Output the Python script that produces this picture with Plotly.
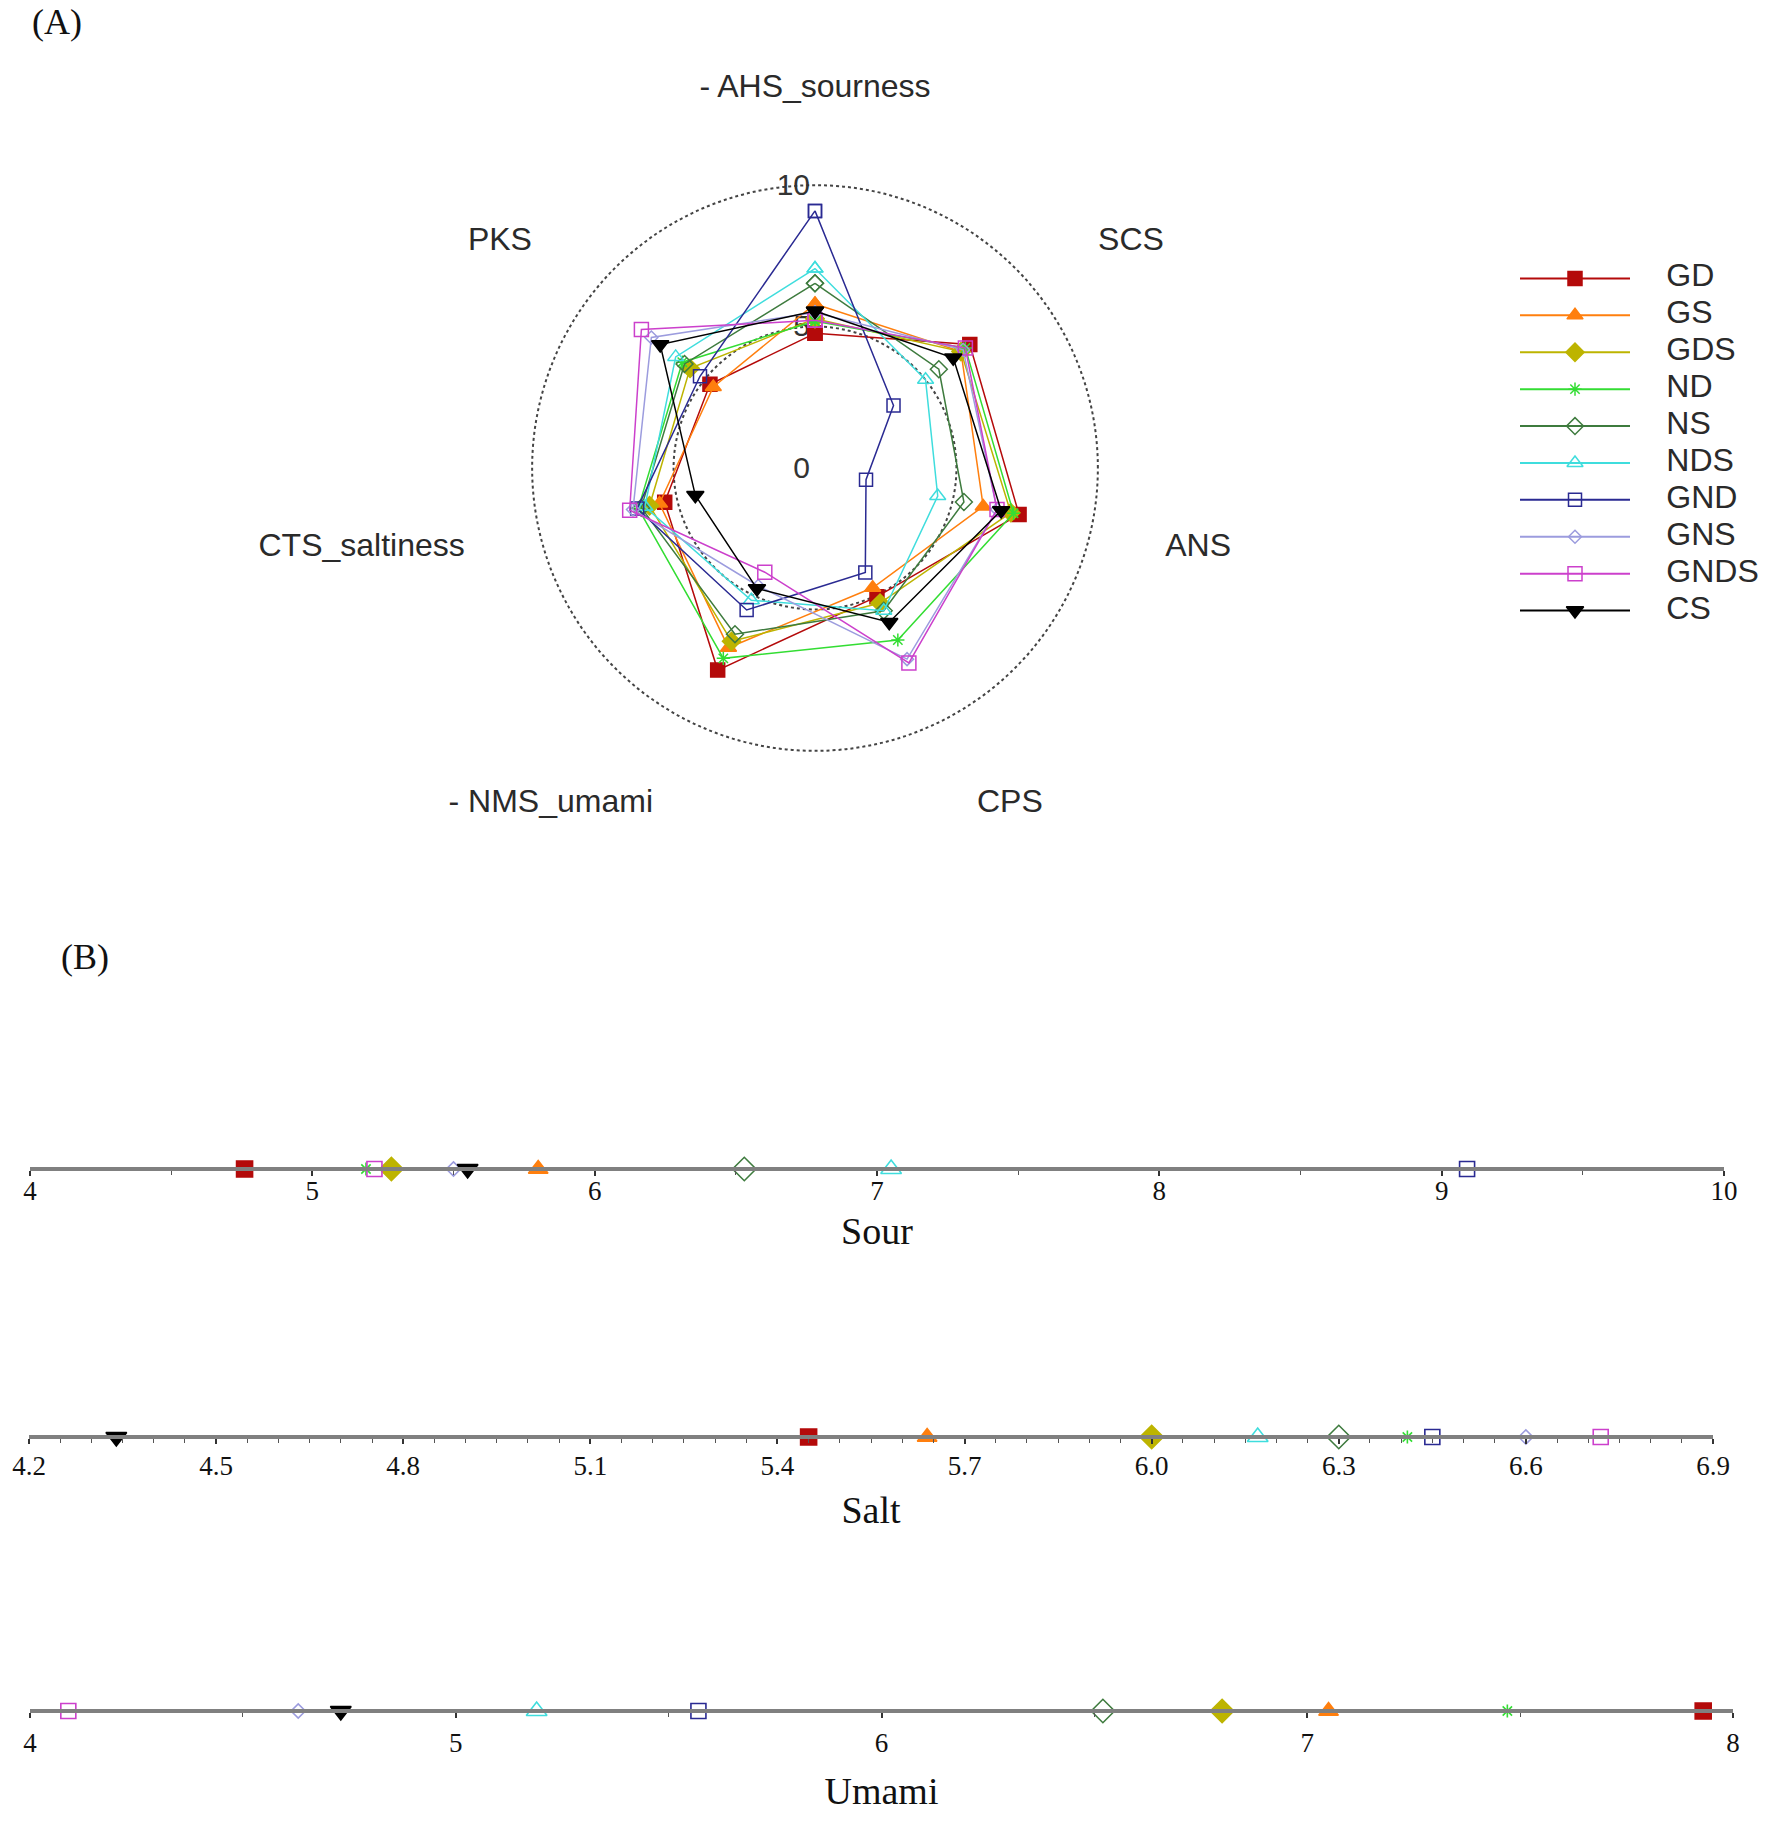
import plotly.graph_objects as go

W, H = 1771, 1845

# ---------------- data ----------------
series = ["GD", "GS", "GDS", "ND", "NS", "NDS", "GND", "GNS", "GNDS", "CS"]
axis_labels = ["- AHS_sourness", "SCS", "ANS", "CPS", "- NMS_umami", "CTS_saltiness", "PKS"]

sour  = [4.76, 5.80, 5.28, 5.19, 6.53, 7.05, 9.09, 5.50, 5.22, 5.55]
scs   = [7.00, 6.60, 6.60, 6.80, 5.60, 5.00, 3.55, 6.70, 6.80, 6.25]
ans   = [7.40, 6.10, 7.10, 7.20, 5.40, 4.45, 1.85, 6.60, 6.60, 6.75]
cps   = [5.05, 4.70, 5.30, 6.75, 5.60, 5.60, 4.10, 7.50, 7.65, 6.05]
umami = [7.93, 7.05, 6.80, 7.47, 6.52, 5.19, 5.57, 4.63, 4.09, 4.73]
salt  = [5.45, 5.64, 6.00, 6.41, 6.30, 6.17, 6.45, 6.60, 6.72, 4.34]
pks   = [4.75, 4.60, 5.65, 6.00, 5.90, 6.30, 5.20, 7.40, 7.85, 7.00]

radial_ticks = [0, 5, 10]
sour_ticks = [4, 5, 6, 7, 8, 9, 10]
salt_ticks = [4.2, 4.5, 4.8, 5.1, 5.4, 5.7, 6.0, 6.3, 6.6, 6.9]
umami_ticks = [4, 5, 6, 7, 8]

# ---------------- styles ----------------
colors = ["#B40A0A", "#FF7F0E", "#BDB400", "#33DD33", "#3E7B3E",
          "#3FDDDD", "#2A2A92", "#9C9CDE", "#CC40CC", "#000000"]
symbols = ["square", "triangle-up", "diamond", "asterisk-open", "diamond-open",
           "triangle-up-open", "square-open", "diamond-open", "square-open", "triangle-down"]
radar_sizes = [14, 14, 14, 11, 13, 14, 13, 10, 14, 15]
line_sizes = [16, 17, 18, 11, 18, 18, 15, 11, 15, 18]

SANS = "Liberation Sans, Arial, sans-serif"
SERIF = "Liberation Serif, Times New Roman, serif"

fig = go.Figure()

# ---------------- radar (A) ----------------
for i, name in enumerate(series):
    vals = [sour[i], scs[i], ans[i], cps[i], umami[i], salt[i], pks[i]]
    fig.add_trace(go.Scatterpolar(
        r=vals + [vals[0]], theta=axis_labels + [axis_labels[0]],
        mode="lines+markers", name=name, showlegend=False,
        line=dict(color=colors[i], width=1.5),
        marker=dict(symbol=symbols[i], size=radar_sizes[i], color=colors[i], opacity=1,
                    line=dict(color=colors[i], width=1.5)),
        subplot="polar"))

label_r = [13.4, 12.8, 12.7, 13.2, 13.2, 12.7, 12.8]
label_pos = ["middle center", "middle right", "middle right", "middle right",
             "middle left", "middle left", "middle left"]
fig.add_trace(go.Scatterpolar(
    r=label_r, theta=axis_labels, mode="text", text=axis_labels,
    textposition=label_pos, cliponaxis=False, showlegend=False,
    textfont=dict(family=SANS, size=32, color="#2a2a2a"), subplot="polar"))

cx, cy, R = 815, 468, 396
fig.update_layout(polar=dict(
    domain=dict(x=[(cx - R) / W, (cx + R) / W], y=[1 - (cy + R) / H, 1 - (cy - R) / H]),
    bgcolor="white",
    radialaxis=dict(range=[0, 14], tickvals=radial_ticks, ticktext=[str(t) for t in radial_ticks],
                    showline=False, ticks="", angle=90, tickangle=90, side="counterclockwise",
                    showgrid=True, gridcolor="#444", griddash="dot", gridwidth=1.6,
                    tickfont=dict(family=SANS, size=30, color="#333"), layer="below traces"),
    angularaxis=dict(direction="clockwise", rotation=90, showgrid=False, showline=False,
                     showticklabels=False, ticks="", categoryarray=axis_labels,
                     categoryorder="array"),
))

# ---------------- custom legend ----------------
for i, name in enumerate(series):
    fig.add_trace(go.Scatter(x=[0, 1], y=[i, i], mode="lines", showlegend=False,
                             line=dict(color=colors[i], width=2), xaxis="x4", yaxis="y4",
                             hoverinfo="skip"))
    fig.add_trace(go.Scatter(x=[0.5], y=[i], mode="markers", showlegend=False,
                             marker=dict(symbol=symbols[i], size=radar_sizes[i], color=colors[i],
                                         opacity=1, line=dict(color=colors[i], width=1.5)),
                             xaxis="x4", yaxis="y4", cliponaxis=False))
fig.add_trace(go.Scatter(x=[1.33] * len(series), y=list(range(len(series))), mode="text",
                         text=series, textposition="middle right", showlegend=False,
                         textfont=dict(family=SANS, size=32, color="#2a2a2a"),
                         xaxis="x4", yaxis="y4", cliponaxis=False))

# ---------------- number lines (B) ----------------
def add_line(values, xa, ya):
    fig.add_trace(go.Scatter(
        x=values, y=[0] * len(values), mode="markers", showlegend=False,
        marker=dict(symbol=symbols, size=line_sizes, color=colors, opacity=1,
                    line=dict(color=colors, width=1.6)),
        xaxis=xa, yaxis=ya, cliponaxis=False))

add_line(sour, "x", "y")
add_line(salt, "x2", "y2")
add_line(umami, "x3", "y3")

LW = 3.5


def ydom(ypx):
    b = 1 - ypx / H
    return [b, b + 0.02]


def line_axis(ypx, domain, rng, tickvals, fmt, minor_dtick, title, standoff, lblstand):
    return dict(anchor="free", position=ydom(ypx)[0],
                domain=domain, range=rng, tickvals=tickvals, tickformat=fmt,
                automargin=False,
                showline=True, linecolor="#808080", linewidth=LW, showgrid=False,
                zeroline=False, ticks="outside", ticklen=5, tickwidth=1.5, tickcolor="#333",
                ticklabelstandoff=lblstand,
                minor=dict(dtick=minor_dtick, ticks="outside", ticklen=4, tickwidth=1.2,
                           tickcolor="#555", showgrid=False),
                tickfont=dict(family=SERIF, size=27, color="#111"),
                title=dict(text=title, font=dict(family=SERIF, size=38, color="#111"),
                           standoff=standoff))


yl = dict(range=[0, 1], visible=False, automargin=False)
fig.update_layout(
    xaxis=line_axis(1169, [30 / W, 1724 / W], [4, 10], sour_ticks, "d", 0.5, "Sour", 11, -8),
    yaxis=dict(anchor="x", domain=ydom(1169), **yl),
    xaxis2=line_axis(1437, [29 / W, 1713 / W], [4.2, 6.9], salt_ticks, ".1f", 0.05, "Salt", 15, -1),
    yaxis2=dict(anchor="x2", domain=ydom(1437), **yl),
    xaxis3=line_axis(1711, [30 / W, 1733 / W], [4, 8], umami_ticks, "d", 0.5, "Umami", 19, 2),
    yaxis3=dict(anchor="x3", domain=ydom(1711), **yl),
    xaxis4=dict(anchor="y4", domain=[1520 / W, 1.0], range=[0, 251 / 110], visible=False,
                automargin=False),
    yaxis4=dict(anchor="x4", domain=[1 - 629 / H, 1 - 260 / H], range=[9.5, -0.5], visible=False,
                automargin=False),
)

fig.add_annotation(text="(A)", x=57 / W, y=1 - 22 / H, xref="paper", yref="paper",
                   showarrow=False, xanchor="center", yanchor="middle",
                   font=dict(family=SERIF, size=36, color="#111"))
fig.add_annotation(text="(B)", x=85 / W, y=1 - 957 / H, xref="paper", yref="paper",
                   showarrow=False, xanchor="center", yanchor="middle",
                   font=dict(family=SERIF, size=36, color="#111"))

fig.update_layout(template="none", width=W, height=H, margin=dict(l=0, r=0, t=0, b=0, autoexpand=False),
                  paper_bgcolor="white", plot_bgcolor="white", showlegend=False)

fig.write_html("out.html")
